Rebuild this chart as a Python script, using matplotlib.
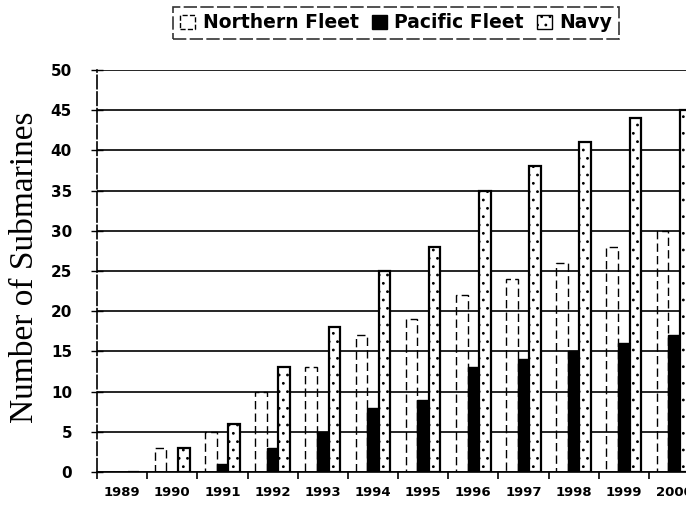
import matplotlib
matplotlib.use("Agg")
import matplotlib.pyplot as plt
import numpy as np
from matplotlib.patches import Patch

years = ["1989", "1990", "1991", "1992", "1993", "1994", "1995", "1996", "1997", "1998", "1999", "2000"]
northern = [0, 3, 5, 10, 13, 17, 19, 22, 24, 26, 28, 30]
pacific = [0, 0, 1, 3, 5, 8, 9, 13, 14, 15, 16, 17]
navy = [0, 3, 6, 13, 18, 25, 28, 35, 38, 41, 44, 45]

plt.rcParams["hatch.linewidth"] = 0.8

fig = plt.figure(figsize=(6.86, 5.08), dpi=100)
ax = fig.add_axes([97/686, 36/508, 1 - 97/686, (472-70)/508])

x = np.arange(len(years))
w = 0.23
ax.bar(x - w, northern, w, fill=False, edgecolor="black", linestyle=(0, (6, 3)), linewidth=1.0, zorder=3)
ax.bar(x, pacific, w, color="black", edgecolor="black", linewidth=1.0, zorder=3)
ax.bar(x + w, navy, w, color="white", edgecolor="black", hatch="..", linewidth=1.6, zorder=3)

ax.set_ylim(0, 50)
ax.set_xlim(-0.5, 11.24)
ax.set_yticks(range(0, 51, 5))
ax.yaxis.grid(True, color="black", linewidth=1.2, zorder=0)
ax.set_axisbelow(True)
for s in ["top", "right"]:
    ax.spines[s].set_visible(False)
ax.spines["left"].set_linestyle((0, (8, 2)))
ax.spines["left"].set_linewidth(1.2)
ax.spines["bottom"].set_linewidth(1.2)

ax.set_xticks(x)
ax.set_xticklabels(years, fontsize=9.5, fontweight="bold")
ax.tick_params(axis="x", which="major", length=0, pad=10)
ax.set_xticks(np.arange(-0.5, 11.5, 1), minor=True)
ax.tick_params(axis="x", which="minor", length=5, width=1.2, direction="out")
ax.tick_params(axis="y", length=8, width=1.0, direction="inout", labelsize=11, pad=14)
for lab in ax.get_yticklabels():
    lab.set_fontweight("bold")

fig.text(25/686, 1 - 267/508, "Number of Submarines", rotation=90, ha="center", va="center",
         fontsize=24, family="Liberation Serif")

handles = [
    Patch(facecolor="white", edgecolor="black", linestyle="--", label="Northern Fleet"),
    Patch(facecolor="black", edgecolor="black", label="Pacific Fleet"),
    Patch(facecolor="white", edgecolor="black", hatch="..", label="Navy"),
]
leg = fig.legend(handles=handles, loc="center", bbox_to_anchor=(396/686, 1 - 23/508), ncol=3,
                 frameon=True, fancybox=False, edgecolor="black", handlelength=0.8, handleheight=0.8,
                 handletextpad=0.4, columnspacing=0.7, borderpad=0.35,
                 prop={"weight": "bold", "size": 13.5})
leg.get_frame().set_linestyle((0, (8, 2)))
leg.get_frame().set_linewidth(1.2)

fig.savefig("out.png", dpi=100)
